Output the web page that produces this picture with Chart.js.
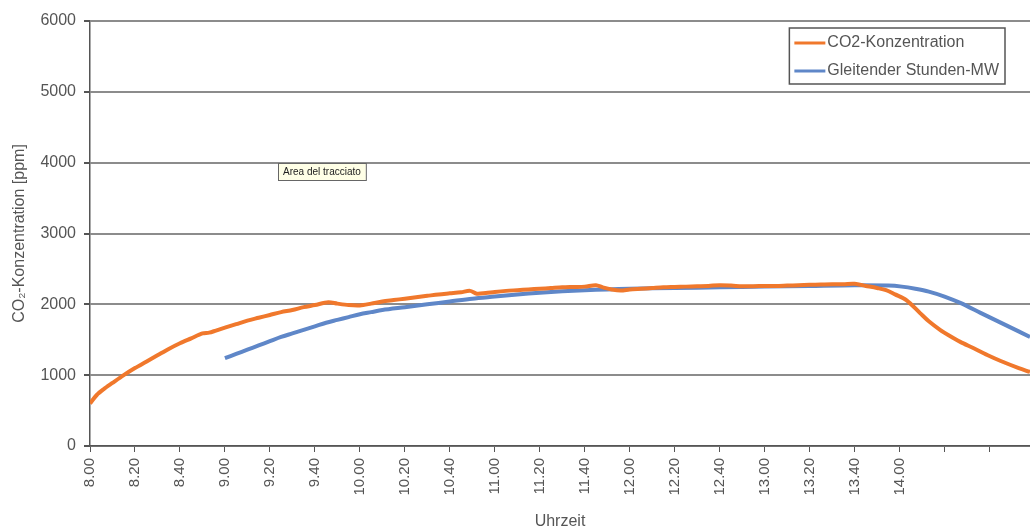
<!DOCTYPE html>
<html>
<head>
<meta charset="utf-8">
<script src="https://cdn.jsdelivr.net/npm/chart.js@4/dist/chart.umd.min.js"></script>
<style>
  body { margin: 0; background: #fff; }
  canvas { display: block; }
</style>
</head>
<body>
<canvas id="co2Chart" width="1030" height="531"></canvas>
<script>
// minutes after 8.00
const tickLabels = ["8.00", "8.20", "8.40", "9.00", "9.20", "9.40", "10.00", "10.20", "10.40",
  "11.00", "11.20", "11.40", "12.00", "12.20", "12.40", "13.00", "13.20", "13.40", "14.00"];

const co2Minutes = [0, 3, 6, 10, 15, 20, 25, 30, 35, 40, 45, 50, 53, 56, 60, 65, 70, 75, 80, 85, 90, 95,
  100, 106, 110, 115, 120, 125, 130, 135, 140, 145, 150, 155, 160, 165, 169, 172, 176, 180, 185, 190,
  195, 200, 205, 210, 215, 220, 225, 228, 232, 236, 240, 245, 250, 255, 260, 265, 270, 275, 280, 285,
  290, 295, 300, 305, 310, 315, 320, 325, 330, 335, 340, 345, 350, 354, 358, 363, 369, 373, 378, 382,
  387, 393, 399, 405, 413, 418];
const co2Values = [600, 720, 800, 890, 1000, 1100, 1190, 1280, 1370, 1450, 1520, 1590, 1600, 1630, 1670,
  1720, 1770, 1810, 1850, 1890, 1920, 1960, 1990, 2030, 2010, 1990, 1985, 2010, 2040, 2060, 2080, 2100,
  2120, 2140, 2155, 2170, 2190, 2150, 2160, 2175, 2190, 2200, 2210, 2220, 2230, 2240, 2245, 2250, 2270,
  2240, 2210, 2195, 2210, 2220, 2230, 2240, 2245, 2250, 2255, 2260, 2270, 2265, 2255, 2255, 2260, 2260,
  2265, 2270, 2275, 2280, 2285, 2285, 2290, 2260, 2230, 2200, 2140, 2060, 1880, 1760, 1640, 1560, 1470,
  1380, 1285, 1200, 1100, 1045];

const mwMinutes = [60, 65, 70, 75, 80, 85, 90, 95, 100, 105, 110, 115, 120, 125, 130, 140, 150, 160, 170,
  180, 190, 200, 210, 220, 230, 240, 260, 280, 300, 320, 340, 355, 361, 367, 373, 380, 387, 396, 407, 418];
const mwValues = [1240, 1300, 1360, 1420, 1480, 1540, 1590, 1640, 1690, 1740, 1780, 1820, 1860, 1890,
  1920, 1960, 2000, 2040, 2080, 2110, 2140, 2165, 2185, 2200, 2210, 2220, 2230, 2240, 2250, 2260, 2270,
  2265, 2250, 2220, 2180, 2110, 2020, 1880, 1710, 1540];

const seriesNames = ["CO2-Konzentration", "Gleitender Stunden-MW"];
const seriesColors = ["#f0782c", "#5f87c8"];

const textColor = "#555";
const fontFamily = "'Liberation Sans', Arial, sans-serif";

function toPoints(xs, ys) {
  return xs.map((x, i) => ({ x: x, y: ys[i] }));
}

// legend box inside the plot, top right
const boxLegend = {
  id: "boxLegend",
  afterDraw(chart) {
    const { ctx, chartArea } = chart;
    ctx.save();
    ctx.font = "16px " + fontFamily;
    const textW = Math.max(...seriesNames.map((n) => ctx.measureText(n).width));
    const w = 38 + textW + 6;
    const h = 56;
    const right = chartArea.right - 25;
    const left = right - w;
    const top = chartArea.top + 7;
    ctx.fillStyle = "#fff";
    ctx.fillRect(left, top, w, h);
    ctx.strokeStyle = "#555";
    ctx.lineWidth = 1.5;
    ctx.strokeRect(left, top, w, h);
    ctx.textBaseline = "middle";
    seriesNames.forEach((name, i) => {
      const y = top + 15 + i * 28;
      ctx.strokeStyle = seriesColors[i];
      ctx.lineWidth = 3;
      ctx.beginPath();
      ctx.moveTo(left + 5, y);
      ctx.lineTo(left + 36, y);
      ctx.stroke();
      ctx.fillStyle = textColor;
      ctx.fillText(name, left + 38, y);
    });
    ctx.restore();
  },
};

// the little "Area del tracciato" hint box
const plotHint = {
  id: "plotHint",
  afterDraw(chart) {
    const { ctx, chartArea } = chart;
    const x = chartArea.left + 188;
    const y = chartArea.top + 142;
    ctx.save();
    ctx.font = "10px " + fontFamily;
    const w = ctx.measureText("Area del tracciato").width + 10;
    ctx.fillStyle = "#ffffe6";
    ctx.fillRect(x, y, w, 17);
    ctx.strokeStyle = "#666";
    ctx.lineWidth = 1;
    ctx.strokeRect(x + 0.5, y + 0.5, w, 17);
    ctx.fillStyle = "#222";
    ctx.textBaseline = "middle";
    ctx.fillText("Area del tracciato", x + 5, y + 9);
    ctx.restore();
  },
};

new Chart(document.getElementById("co2Chart"), {
  type: "line",
  data: {
    datasets: [
      {
        label: seriesNames[0],
        data: toPoints(co2Minutes, co2Values),
        borderColor: seriesColors[0],
        borderWidth: 4,
        pointRadius: 0,
        tension: 0.3,
      },
      {
        label: seriesNames[1],
        data: toPoints(mwMinutes, mwValues),
        borderColor: seriesColors[1],
        borderWidth: 4,
        pointRadius: 0,
        tension: 0.3,
      },
    ],
  },
  options: {
    responsive: false,
    animation: false,
    layout: { padding: { top: 21, right: 0, left: 0, bottom: 0 } },
    plugins: {
      legend: { display: false },
      tooltip: { enabled: false },
    },
    scales: {
      x: {
        type: "linear",
        min: 0,
        max: 418,
        afterFit: (scale) => { scale.height = 85; },
        ticks: {
          stepSize: 20,
          includeBounds: false,
          autoSkip: false,
          maxRotation: 90,
          minRotation: 90,
          padding: 6,
          color: textColor,
          font: { family: fontFamily, size: 15 },
          callback: (value) => tickLabels[Math.round(value / 20)] || "",
        },
        grid: {
          drawOnChartArea: false,
          drawTicks: true,
          tickLength: 6,
          tickColor: "#555",
        },
        border: { color: "#555", width: 1.5 },
        title: {
          display: true,
          text: "Uhrzeit",
          color: textColor,
          font: { family: fontFamily, size: 16 },
          padding: { top: 0, bottom: 0 },
        },
      },
      y: {
        min: 0,
        max: 6000,
        afterFit: (scale) => { scale.width = 90; },
        ticks: {
          stepSize: 1000,
          padding: 8,
          color: textColor,
          font: { family: fontFamily, size: 16 },
          callback: (value) => String(value),
        },
        grid: {
          color: "#8c8c8c",
          lineWidth: 2,
          tickLength: 6,
          tickColor: "#555",
        },
        border: { color: "#555", width: 1.5 },
        title: {
          display: true,
          text: "CO₂-Konzentration [ppm]",
          color: textColor,
          font: { family: fontFamily, size: 16 },
          padding: { top: 10, bottom: 0 },
        },
      },
    },
  },
  plugins: [boxLegend, plotHint],
});
</script>
</body>
</html>
